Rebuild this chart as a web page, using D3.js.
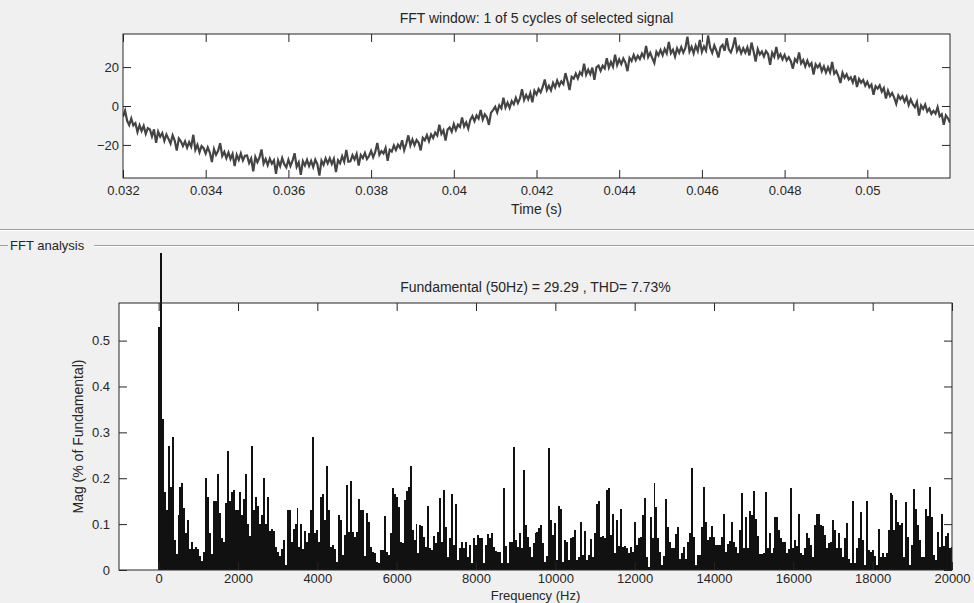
<!DOCTYPE html>
<meta charset="utf-8">
<script src="https://d3js.org/d3.v7.min.js"></script>
<style>
	body{
		margin:0;
		background-color:#f0f0f0;
		font-family:'Liberation Sans', Arial, sans-serif;
	}
	svg text{
		fill:#262626;
		font-size:14px;
	}
	.tick text{
		font-size:13px;
	}
</style>
<div id="chart"></div>

<script>

// time signal, one sample every 0.05 ms starting at 0.032 s
var tStart = 0.032
var tStep = 0.00005
var signal = [
	-5.5,-2.4,-7.6,-9.8,-6.4,-9.9,-8.8,-13.4,-9.9,-12.8,
	-10.2,-14.3,-11.4,-12.1,-15.6,-12.0,-18.9,-13.2,-15.8,-13.9,
	-17.9,-14.6,-16.9,-19.3,-15.1,-17.8,-22.9,-16.7,-18.1,-20.6,
	-18.2,-21.4,-18.6,-20.9,-14.8,-22.5,-20.0,-23.8,-20.6,-21.7,
	-24.4,-21.3,-23.9,-28.8,-22.2,-25.1,-23.0,-19.1,-25.7,-23.6,
	-26.8,-23.9,-27.2,-24.6,-30.9,-25.1,-27.7,-24.4,-27.9,-25.6,
	-25.4,-29.3,-27.0,-33.6,-26.2,-28.9,-26.5,-22.3,-29.6,-27.2,
	-30.4,-27.1,-29.6,-27.9,-34.8,-28.0,-30.9,-26.8,-29.9,-31.5,
	-27.6,-30.8,-28.1,-24.3,-31.2,-29.0,-35.4,-28.4,-30.6,-27.7,
	-30.9,-28.2,-31.4,-27.6,-29.9,-35.8,-28.1,-30.2,-26.9,-29.5,
	-26.9,-29.8,-27.2,-33.9,-27.9,-29.4,-25.8,-28.7,-22.6,-28.6,
	-28.4,-25.3,-27.5,-24.6,-30.6,-25.2,-26.8,-24.1,-27.3,-25.7,
	-23.1,-26.3,-23.6,-19.0,-25.1,-23.2,-24.4,-21.6,-28.2,-22.5,
	-23.4,-20.3,-22.6,-19.9,-21.5,-17.6,-22.7,-19.4,-15.1,-20.2,
	-17.2,-20.1,-17.5,-18.9,-22.8,-16.3,-17.6,-15.0,-18.1,-14.6,
	-16.4,-13.7,-15.2,-9.6,-14.3,-12.5,-17.8,-12.1,-11.0,-13.2,
	-9.3,-12.4,-9.6,-10.8,-5.9,-10.5,-8.4,-11.6,-7.1,-5.2,
	-7.8,-4.9,-6.5,-2.0,-6.9,-4.3,-5.8,-9.7,-3.4,-2.1,
	-0.4,-3.3,0.4,-1.2,4.3,-0.8,1.7,-1.0,2.5,0.9,
	4.2,1.5,3.9,8.6,3.1,5.7,3.4,6.6,1.9,7.8,
	5.9,8.7,7.0,9.8,13.6,8.2,10.4,8.1,11.9,9.6,
	13.1,10.4,12.7,11.3,16.9,12.8,8.2,15.0,14.1,16.7,
	14.2,17.3,16.0,21.8,16.1,18.6,16.3,19.7,13.4,19.9,
	20.8,18.1,20.7,19.3,24.6,19.7,22.6,20.2,26.4,21.1,
	23.9,21.5,24.4,22.3,17.9,24.7,23.1,26.2,23.5,25.8,
	24.1,26.9,25.0,30.8,25.2,27.4,24.6,22.1,27.8,26.0,
	28.8,26.1,29.3,27.0,32.9,27.1,28.9,25.4,29.6,27.3,
	30.2,27.4,29.8,35.6,28.0,30.4,27.1,31.0,28.3,33.9,
	27.8,30.6,28.5,36.2,29.9,27.3,31.1,28.4,24.9,30.2,
	31.4,28.3,34.8,29.1,27.6,30.5,35.2,28.2,30.4,27.1,
	29.7,27.4,30.1,26.0,32.6,28.1,22.8,29.2,26.5,28.0,
	25.4,28.2,26.7,21.2,27.4,25.3,30.3,24.8,26.6,23.9,
	26.3,23.5,25.1,23.0,19.2,24.1,22.7,27.5,21.9,23.6,
	20.4,23.3,20.6,22.0,16.2,21.4,19.8,21.5,17.9,20.4,
	17.2,19.9,17.3,22.6,16.6,18.0,15.4,11.8,17.1,14.5,
	16.3,13.6,14.8,12.1,15.7,9.8,13.9,12.0,13.4,10.5,
	12.4,9.6,11.0,5.8,10.2,8.9,10.6,7.4,9.2,3.9,
	7.9,5.1,6.7,4.3,1.1,5.4,3.6,5.0,2.2,4.6,
	0.5,3.4,0.9,-0.6,2.1,-4.9,0.3,-1.5,0.7,-2.8,
	-1.3,-4.1,-2.5,-3.9,-0.6,-5.3,-4.2,-9.6,-4.8,-6.3,
	-8.5
]
var timeTicks = [0.032,0.034,0.036,0.038,0.04,0.042,0.044,0.046,0.048,0.05]
var timeTickLabels = ["0.032","0.034","0.036","0.038","0.04","0.042","0.044","0.046","0.048","0.05"]
var signalTicks = [-20,0,20]

// spectrum, one bar per 50 Hz bin starting at DC (bin 1 = fundamental = 100 %)
var binStep = 50
var magnitude = [
	0.53,100,0.33,0.17,0.13,0.27,0.18,0.29,0.065,0.035,0.12,0.18,0.19,0.135,0.08,0.11,0.045,0.06,0.045,0.05,
	0.045,0.03,0.02,0.04,0.2,0.16,0.08,0.035,0.15,0.15,0.21,0.125,0.07,0.06,0.145,0.26,0.15,0.17,0.175,0.13,
	0.13,0.17,0.12,0.155,0.21,0.1,0.075,0.27,0.13,0.16,0.14,0.1,0.12,0.2,0.1,0.16,0.085,0.09,0.085,0.05,
	0.04,0.03,0.045,0.065,0.01,0.13,0.13,0.06,0.09,0.1,0.135,0.05,0.1,0.045,0.085,0.06,0.08,0.13,0.29,0.08,
	0.087,0.06,0.16,0.165,0.11,0.227,0.13,0.05,0.055,0.045,
	0.018,0.12,0.11,0.033,0.076,0.185,0.083,0.195,0.083,0.073,
	0.083,0.155,0.13,0.13,0.03,0.125,0.105,0.05,0.04,0.038,
	0.018,0.016,0.044,0.044,0.118,0.04,0.033,0.08,0.178,0.165,
	0.16,0.137,0.062,0.058,0.152,0.173,0.18,0.227,0.087,0.065,
	0.1,0.036,0.098,0.096,0.073,0.05,0.14,0.047,0.044,0.074,
	0.058,0.083,0.158,0.062,0.174,0.094,0.029,0.069,0.165,0.054,
	0.144,0.022,0.047,0.06,0.047,0.06,0.029,0.054,0.015,0.069,
	0.054,0.076,0.069,0.069,0.015,0.054,0.078,0.069,0.081,0.05,
	0.042,0.04,0.04,0.015,0.178,0.052,0.015,0.062,0.06,0.269,
	0.065,0.05,0.08,0.047,0.218,0.098,0.073,0.05,0.029,0.058,
	0.08,0.083,0.091,0.098,0.058,0.018,0.03,0.267,0.109,0.076,
	0.102,0.022,0.14,0.134,0.018,0.065,0.062,0.022,0.069,0.073,
	0.087,0.022,0.029,0.104,0.033,0.085,0.022,0.033,0.067,0.029,
	0.08,0.144,0.15,0.073,0.074,0.069,0.174,0.178,0.076,0.122,
	0.036,0.109,0.052,0.132,0.05,0.052,0.047,0.036,0.05,0.04,
	0.105,
	0.054,0.069,0.073,0.12,0.158,0.029,0.007,0.115,0.07,
	0.19,0.137,0.069,0.04,0.011,0.03,0.155,0.093,0.06,0.047,
	0.047,0.078,0.093,0.023,0.036,0.05,0.023,0.062,0.08,0.223,
	0.071,0.011,0.033,0.033,0.093,0.18,0.104,0.065,0.071,0.095,
	0.071,0.054,0.054,0.054,0.071,0.122,0.04,0.057,0.063,0.104,
	0.062,0.05,0.038,0.087,0.167,0.049,0.115,0.047,0.129,0.12,
	0.172,0.112,0.074,0.034,0.034,0.038,0.169,0.047,0.081,0.038,
	0.047,0.115,0.115,0.087,0.069,0.062,0.062,0.036,0.045,0.178,
	0.047,
	0.065,0.052,0.122,0.036,0.033,0.047,0.08,0.069,0.054,
	0.029,0.098,0.122,0.122,0.098,0.096,0.076,0.047,0.058,0.06,
	0.109,0.087,0.047,0.08,0.047,0.029,0.069,0.102,0.025,0.015,
	0.15,0.015,0.047,0.069,0.127,0.065,0.011,0.15,0.044,0.04,
	0.044,0.031,0.011,0.09,0.029,0.036,0.029,0.036,0.087,0.167,
	0.163,0.087,0.152,0.105,0.098,0.102,0.029,0.149,0.073,0.011,
	0.054,0.176,0.134,0.098,0.065,0.029,0.029,0.132,0.118,0.18,
	0.116,0.033,0.022,0.083,0.051,0.122,0.052,0.074,0.08,0.047,
	0.05
]
var freqTicks = [0,2000,4000,6000,8000,10000,12000,14000,16000,18000,20000]
var magTicks = [0,0.1,0.2,0.3,0.4,0.5]

var W = 974
var H = 603
var axisColor = "#262626"

var svg = d3.select("#chart").append("svg")
	.attr("width",W)
	.attr("height",H)

var defs = svg.append("defs")

// ---------- top: signal window ----------
var x1 = d3.scaleLinear().domain([0.032,0.052]).range([123,950])
var y1 = d3.scaleLinear().domain([-37,37]).range([178,34])

svg.append("rect")
	.attr("x",x1.range()[0]).attr("y",y1.range()[1])
	.attr("width",x1.range()[1]-x1.range()[0])
	.attr("height",y1.range()[0]-y1.range()[1])
	.attr("fill","#fff")

defs.append("clipPath").attr("id","clipTop").append("rect")
	.attr("x",x1.range()[0]).attr("y",y1.range()[1])
	.attr("width",x1.range()[1]-x1.range()[0])
	.attr("height",y1.range()[0]-y1.range()[1])

var line = d3.line()
	.x(function(d,i){ return x1(tStart+i*tStep) })
	.y(function(d){ return y1(d) })

svg.append("path")
	.datum(signal)
	.attr("clip-path","url(#clipTop)")
	.attr("d",line)
	.attr("fill","none")
	.attr("stroke","#444")
	.attr("stroke-width",2.2)

function styleAxis(g){
	g.attr("color",axisColor)
	g.select(".domain").remove()
	g.selectAll("text").attr("font-size",null)
}

svg.append("g")
	.attr("transform","translate(0,"+y1.range()[0]+")")
	.call(d3.axisBottom(x1).tickValues(timeTicks).tickSize(-8).tickPadding(8)
		.tickFormat(function(d,i){ return timeTickLabels[i] }))
	.call(styleAxis)
svg.append("g")
	.attr("transform","translate(0,"+y1.range()[1]+")")
	.call(d3.axisTop(x1).tickValues(timeTicks).tickSize(-8).tickFormat(""))
	.call(styleAxis)
svg.append("g")
	.attr("transform","translate("+x1.range()[0]+",0)")
	.call(d3.axisLeft(y1).tickValues(signalTicks).tickSize(-8).tickPadding(4))
	.call(styleAxis)
svg.append("g")
	.attr("transform","translate("+x1.range()[1]+",0)")
	.call(d3.axisRight(y1).tickValues(signalTicks).tickSize(-8).tickFormat(""))
	.call(styleAxis)

svg.append("rect")
	.attr("x",x1.range()[0]).attr("y",y1.range()[1])
	.attr("width",x1.range()[1]-x1.range()[0])
	.attr("height",y1.range()[0]-y1.range()[1])
	.attr("fill","none").attr("stroke",axisColor)

svg.append("text").text("FFT window: 1 of 5 cycles of selected signal")
	.attr("x",(x1.range()[0]+x1.range()[1])/2).attr("y",23).attr("text-anchor","middle")
svg.append("text").text("Time (s)")
	.attr("x",(x1.range()[0]+x1.range()[1])/2).attr("y",214).attr("text-anchor","middle")

// panel borders
svg.append("line").attr("x1",0).attr("x2",W).attr("y1",229.5).attr("y2",229.5).attr("stroke","#a0a0a0")
svg.append("line").attr("x1",0).attr("x2",W).attr("y1",230.5).attr("y2",230.5).attr("stroke","#fff")
svg.append("line").attr("x1",0).attr("x2",8).attr("y1",245.5).attr("y2",245.5).attr("stroke","#a0a0a0")
svg.append("line").attr("x1",94).attr("x2",W).attr("y1",245.5).attr("y2",245.5).attr("stroke","#a0a0a0")
svg.append("line").attr("x1",94).attr("x2",W).attr("y1",246.5).attr("y2",246.5).attr("stroke","#fff")
svg.append("text").text("FFT analysis").attr("x",10).attr("y",250).style("font-size","13px")

// ---------- bottom: spectrum ----------
var x2 = d3.scaleLinear().domain([-1000,20000]).range([119,952])
var y2 = d3.scaleLinear().domain([0,0.582]).range([570,303])

svg.append("rect")
	.attr("x",x2.range()[0]).attr("y",y2.range()[1])
	.attr("width",x2.range()[1]-x2.range()[0])
	.attr("height",y2.range()[0]-y2.range()[1])
	.attr("fill","#fff")

// the fundamental bar runs past the axes box up to the panel edge
defs.append("clipPath").attr("id","clipBars").append("rect")
	.attr("x",x2.range()[0]).attr("y",253)
	.attr("width",x2.range()[1]-x2.range()[0])
	.attr("height",y2.range()[0]-253)

var barW = x2(binStep)-x2(0)

svg.append("g")
	.attr("clip-path","url(#clipBars)")
	.selectAll("rect")
	.data(magnitude)
	.join("rect")
	.attr("x",function(d,i){ return x2(i*binStep)-barW/2 })
	.attr("y",function(d){ return y2(d) })
	.attr("width",barW)
	.attr("height",function(d){ return y2(0)-y2(d) })
	.attr("fill","#111")
	.attr("shape-rendering","crispEdges")

svg.append("g")
	.attr("transform","translate(0,"+y2.range()[0]+")")
	.call(d3.axisBottom(x2).tickValues(freqTicks).tickSize(-8).tickPadding(4).tickFormat(d3.format("d")))
	.call(styleAxis)
svg.append("g")
	.attr("transform","translate(0,"+y2.range()[1]+")")
	.call(d3.axisTop(x2).tickValues(freqTicks).tickSize(-8).tickFormat(""))
	.call(styleAxis)
svg.append("g")
	.attr("transform","translate("+x2.range()[0]+",0)")
	.call(d3.axisLeft(y2).tickValues(magTicks).tickSize(-8).tickPadding(9).tickFormat(function(d){ return d==0 ? "0" : d3.format(".1f")(d) }))
	.call(styleAxis)
svg.append("g")
	.attr("transform","translate("+x2.range()[1]+",0)")
	.call(d3.axisRight(y2).tickValues(magTicks).tickSize(-8).tickFormat(""))
	.call(styleAxis)

svg.append("rect")
	.attr("x",x2.range()[0]).attr("y",y2.range()[1])
	.attr("width",x2.range()[1]-x2.range()[0])
	.attr("height",y2.range()[0]-y2.range()[1])
	.attr("fill","none").attr("stroke",axisColor)

var midX2 = (x2.range()[0]+x2.range()[1])/2
svg.append("text").text("Fundamental (50Hz) = 29.29 , THD= 7.73%")
	.attr("x",midX2).attr("y",292).attr("text-anchor","middle")
svg.append("text").text("Frequency (Hz)")
	.attr("x",midX2).attr("y",600).attr("text-anchor","middle").style("font-size","13px")
svg.append("text").text("Mag (% of Fundamental)")
	.attr("transform","translate(83,"+(y2.range()[0]+y2.range()[1])/2+") rotate(-90)")
	.attr("text-anchor","middle")

</script>
